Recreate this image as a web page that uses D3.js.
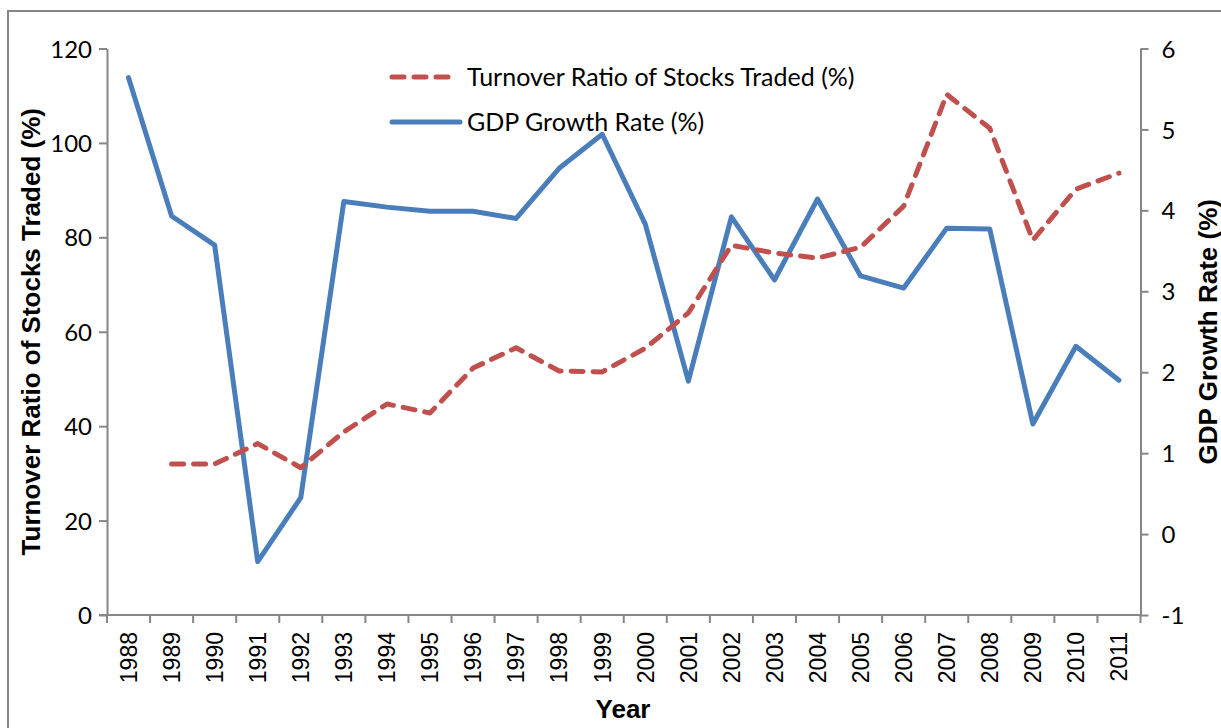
<!DOCTYPE html>
<html>
<head>
<meta charset="utf-8">
<script src="https://cdn.jsdelivr.net/npm/d3@7"></script>
<style>
  body { margin: 0; background: #fff; }
  .tick-y text { font-family: Lato, "Open Sans", sans-serif; font-size: 24px; fill: #000; }
  .tick-x text { font-family: "Liberation Sans", Arial, sans-serif; font-size: 23px; fill: #000; }
  .axis path, .axis line { stroke: #868686; stroke-width: 2; }
  .title { font-family: "Liberation Sans", Arial, sans-serif; font-weight: bold; font-size: 26px; fill: #000; }
  .legend text { font-family: Lato, "Open Sans", sans-serif; font-size: 25px; fill: #000; }
</style>
</head>
<body>
<svg width="1221" height="728"></svg>
<script>
// Data
const years = ['1988','1989','1990','1991','1992','1993','1994','1995','1996','1997','1998','1999',
               '2000','2001','2002','2003','2004','2005','2006','2007','2008','2009','2010','2011'];

// Turnover ratio (%), left axis; no value for 1988
const turnover = [null, 32.0, 32.0, 36.3, 31.2, 38.8, 44.7, 42.8, 52.3, 56.6, 51.7, 51.5,
                  56.5, 64.0, 78.3, 76.7, 75.6, 77.9, 86.6, 110.3, 103.1, 79.4, 90.2, 93.6];

// GDP growth rate (%), right axis
const gdp = [5.64, 3.93, 3.57, -0.34, 0.45, 4.11, 4.04, 3.99, 3.99, 3.90, 4.52, 4.94,
             3.83, 1.89, 3.92, 3.14, 4.14, 3.19, 3.04, 3.78, 3.77, 1.36, 2.32, 1.90];

const leftTicks = [0, 20, 40, 60, 80, 100, 120];
const rightTicks = [-1, 0, 1, 2, 3, 4, 5, 6];

const seriesNames = ['Turnover Ratio of Stocks Traded (%)', 'GDP Growth Rate (%)'];

const svg = d3.select('svg');

// outer chart frame (cropped at right/bottom)
svg.append('rect')
  .attr('x', 8).attr('y', 11)
  .attr('width', 1240).attr('height', 740)
  .attr('fill', 'none')
  .attr('stroke', '#868686')
  .attr('stroke-width', 2);

const plotLeft = 107, plotRight = 1140.5, plotTop = 48.5, plotBottom = 615;

const x = d3.scaleBand()
  .domain(years)
  .range([plotLeft, plotRight]);

const yL = d3.scaleLinear().domain([0, 120]).range([plotBottom, plotTop]);
const yR = d3.scaleLinear().domain([-1, 6]).range([plotBottom, plotTop]);

// Left axis
svg.append('g')
  .attr('class', 'axis tick-y')
  .attr('transform', `translate(${plotLeft},0)`)
  .call(d3.axisLeft(yL).tickValues(leftTicks).tickSize(8).tickSizeOuter(0).tickPadding(7))
  .call(g => g.selectAll('text').attr('dy', '0.36em'));

// Right axis
svg.append('g')
  .attr('class', 'axis tick-y')
  .attr('transform', `translate(${plotRight},0)`)
  .call(d3.axisRight(yR).tickValues(rightTicks).tickSize(8).tickSizeOuter(0).tickPadding(13)
    .tickFormat(d => d < 0 ? '-' + Math.abs(d) : d))
  .call(g => g.selectAll('text').attr('dy', '0.36em'));

// Bottom axis: ticks between categories
const xAxis = svg.append('g')
  .attr('class', 'axis tick-x')
  .attr('transform', `translate(0,${plotBottom})`)
  .call(d3.axisBottom(x).tickSize(0).tickPadding(0));

xAxis.select('.domain').remove();
xAxis.append('line')
  .attr('x1', plotLeft - 8).attr('x2', plotRight).attr('y1', 0).attr('y2', 0)
  .attr('stroke', '#868686').attr('stroke-width', 2);

xAxis.selectAll('.boundary')
  .data(years.concat(['end']))
  .enter()
  .append('line')
  .attr('class', 'boundary')
  .attr('x1', (d, i) => plotLeft + i * x.bandwidth())
  .attr('x2', (d, i) => plotLeft + i * x.bandwidth())
  .attr('y1', 0).attr('y2', 8)
  .attr('stroke', '#868686').attr('stroke-width', 2);

xAxis.selectAll('.tick text')
  .attr('transform', 'rotate(-90)')
  .attr('text-anchor', 'end')
  .attr('x', -17)
  .attr('y', 0)
  .attr('dy', '0.36em');

// Lines
const turnoverLine = d3.line()
  .defined(d => d.v != null)
  .x(d => x(d.year) + x.bandwidth() / 2)
  .y(d => yL(d.v));

const gdpLine = d3.line()
  .x(d => x(d.year) + x.bandwidth() / 2)
  .y(d => yR(d.v));

svg.append('path')
  .datum(years.map((y, i) => ({ year: y, v: gdp[i] })))
  .attr('fill', 'none')
  .attr('stroke', '#4A7EBB')
  .attr('stroke-width', 5)
  .attr('stroke-linejoin', 'round')
  .attr('stroke-linecap', 'round')
  .attr('d', gdpLine);

svg.append('path')
  .datum(years.map((y, i) => ({ year: y, v: turnover[i] })))
  .attr('fill', 'none')
  .attr('stroke', '#C0504D')
  .attr('stroke-width', 5)
  .attr('stroke-dasharray', '12,10')
  .attr('stroke-linejoin', 'round')
  .attr('stroke-linecap', 'round')
  .attr('d', turnoverLine);

// Legend
const legend = svg.append('g').attr('class', 'legend');

legend.append('line')
  .attr('x1', 392).attr('x2', 452).attr('y1', 77).attr('y2', 77)
  .attr('stroke', '#C0504D').attr('stroke-width', 5)
  .attr('stroke-dasharray', '12,10').attr('stroke-linecap', 'round');
legend.append('text')
  .attr('x', 467).attr('y', 77).attr('dy', '0.36em')
  .text(seriesNames[0]);

legend.append('line')
  .attr('x1', 392).attr('x2', 460).attr('y1', 122).attr('y2', 122)
  .attr('stroke', '#4A7EBB').attr('stroke-width', 5).attr('stroke-linecap', 'round');
legend.append('text')
  .attr('x', 467).attr('y', 122).attr('dy', '0.36em')
  .text(seriesNames[1]);

// Axis titles
svg.append('text')
  .attr('class', 'title')
  .attr('transform', `translate(40,${(plotTop + plotBottom) / 2}) rotate(-90)`)
  .attr('text-anchor', 'middle')
  .text('Turnover Ratio of Stocks Traded (%)');

svg.append('text')
  .attr('class', 'title')
  .attr('transform', `translate(1217,${(plotTop + plotBottom) / 2}) rotate(-90)`)
  .attr('text-anchor', 'middle')
  .text('GDP Growth Rate (%)');

svg.append('text')
  .attr('class', 'title')
  .attr('x', 623).attr('y', 718)
  .attr('text-anchor', 'middle')
  .text('Year');
</script>
</body>
</html>
